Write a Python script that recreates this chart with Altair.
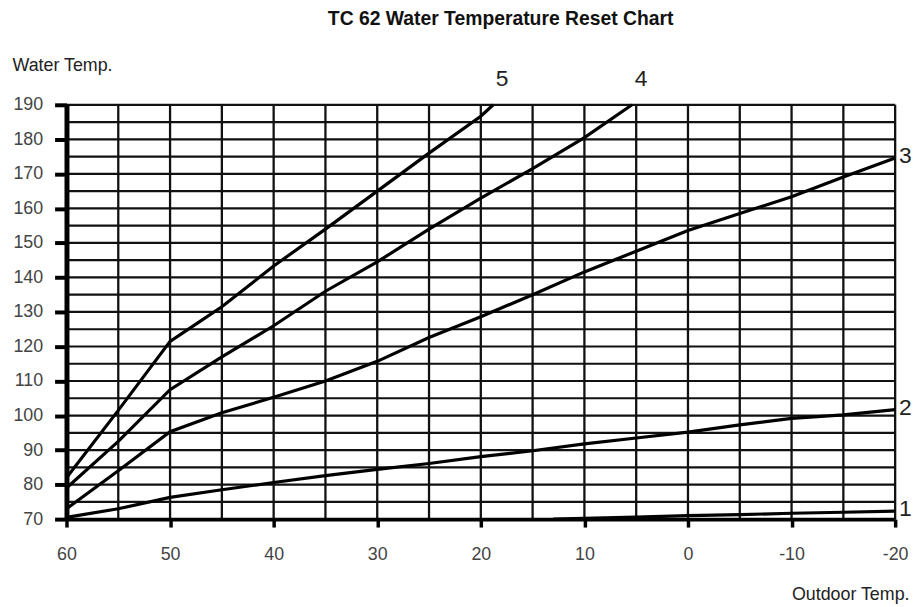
import altair as alt
import pandas as pd

# ---- data ----
curve_names = ["1", "2", "3", "4", "5"]

outdoor_1 = [13, 5, 0, -5, -10, -15, -20]
water_1 = [70, 70.6, 71, 71.3, 71.7, 72, 72.3]

outdoor_2 = [60, 55, 50, 45, 40, 35, 30, 25, 20, 15, 10, 5, 0, -5, -10, -15, -20]
water_2 = [70.5, 73, 76.3, 78.5, 80.6, 82.6, 84.4, 86.1, 88.1, 89.8, 91.8, 93.5, 95.2, 97.3, 99.2, 100.2, 101.7]

outdoor_3 = [60, 55, 50, 45, 40, 35, 30, 25, 20, 15, 10, 5, 0, -5, -10, -15, -20]
water_3 = [73, 84, 95.3, 100.8, 105.3, 110, 115.7, 122.6, 128.6, 135, 141.6, 147.6, 153.6, 158.5, 163.4, 169.1, 174.6]

outdoor_4 = [60, 55, 50, 45, 40, 35, 30, 25, 20, 15, 10, 5.4]
water_4 = [79, 92.5, 107.5, 117, 126, 136, 144.5, 154, 163, 171.5, 180.5, 190]

outdoor_5 = [60, 55, 50, 47, 45, 40, 35, 30, 25, 20, 18.8]
water_5 = [82, 101.5, 121.5, 127.5, 131.5, 143.3, 154, 165, 176, 186.7, 190]

x_grid = list(range(-20, 61, 5))
y_grid = list(range(70, 191, 5))
x_ticks = list(range(-20, 61, 10))
y_ticks = list(range(70, 191, 10))

title_text = "TC 62 Water Temperature Reset Chart"
x_title = "Outdoor Temp."
y_title = "Water Temp."

# ---- tables ----
rows = []
for name, xs_, ys_ in zip(curve_names,
                          [outdoor_1, outdoor_2, outdoor_3, outdoor_4, outdoor_5],
                          [water_1, water_2, water_3, water_4, water_5]):
    for i, (o, w) in enumerate(zip(xs_, ys_)):
        rows.append({"curve": name, "outdoor": o, "water": w, "idx": i})
df = pd.DataFrame(rows)
ends = df.groupby("curve").tail(1).reset_index(drop=True)

FONT = "Liberation Sans"

x_scale = alt.Scale(domain=[-20, 60], reverse=True, nice=False, zero=False)
y_scale = alt.Scale(domain=[70, 190], nice=False, zero=False)

x_axis = alt.Axis(values=x_ticks, title=x_title, grid=False,
                  labelExpr="datum.value + ''",
                  tickSize=8, tickWidth=3.5, tickColor="black",
                  domainWidth=4, domainColor="black",
                  labelFont=FONT, labelFontSize=18, labelColor="#444",
                  labelPadding=19, labelFlush=False, labelOverlap=False,
                  titleFont=FONT, titleFontSize=18, titleFontWeight="normal",
                  titleColor="#222", titleX=850, titleY=81, titleAlign="right",
                  titleBaseline="alphabetic", zindex=1)

y_axis = alt.Axis(values=y_ticks, title=y_title, grid=False,
                  labelExpr="datum.value + ''",
                  tickSize=12, tickWidth=4, tickColor="black",
                  domainWidth=5, domainColor="black",
                  labelFont=FONT, labelFontSize=18, labelColor="#444",
                  labelPadding=12, labelOverlap=False,
                  titleFont=FONT, titleFontSize=18, titleFontWeight="normal",
                  titleColor="#222", titleAngle=0, titleX=-55, titleY=-35,
                  titleAlign="left", titleBaseline="alphabetic", zindex=1)

X = alt.X("outdoor:Q", scale=x_scale, axis=x_axis)
Y = alt.Y("water:Q", scale=y_scale, axis=y_axis)

vgrid = alt.Chart(pd.DataFrame({"outdoor": x_grid})).mark_rule(
    color="#111", strokeWidth=2.3).encode(x=X)
hgrid = alt.Chart(pd.DataFrame({"water": y_grid})).mark_rule(
    color="#111", strokeWidth=2.2).encode(y=Y)

lines = alt.Chart(df).mark_line(color="black", strokeWidth=3.2).encode(
    x=X, y=Y, detail="curve:N", order="idx:Q")

top_labels = alt.Chart(ends).transform_filter("datum.outdoor > -20").mark_text(
    font=FONT, fontSize=23, color="#222", dx=9, dy=-26, clip=False
).encode(x=X, y=Y, text="curve:N")

right_labels = alt.Chart(ends).transform_filter("datum.outdoor <= -20").mark_text(
    font=FONT, fontSize=23, color="#222", align="left", dx=4, dy=-2, clip=False
).encode(x=X, y=Y, text="curve:N")

chart = alt.layer(vgrid, hgrid, lines, top_labels, right_labels).properties(
    width=836, height=418,
    autosize="none",
    padding={"left": 59, "top": 95, "right": 17, "bottom": 86},
    title=alt.TitleParams(title_text, font=FONT, fontSize=19.5, fontWeight="bold",
                          color="#111", anchor="middle", frame="group",
                          dx=20, dy=-23),
).configure_view(stroke="black", strokeWidth=3).configure(background="white")

chart.save("out.html", embed_options={"renderer": "svg", "actions": False})
